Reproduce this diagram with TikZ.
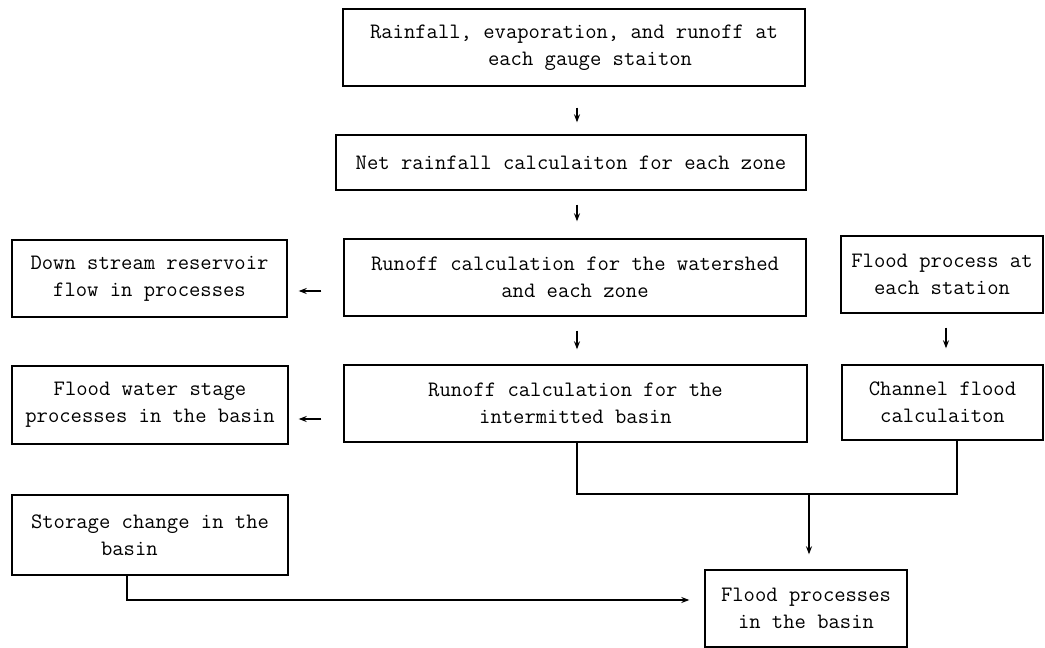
\documentclass[tikz,border=0pt]{standalone}
\usetikzlibrary{arrows.meta}
\begin{document}
\begin{tikzpicture}[x=1pt,y=-1pt,
  box/.style={draw,line width=1.4pt,rectangle,inner sep=0pt,align=center,
    font=\ttfamily\fontsize{22}{27}\selectfont},
  leftbox/.style={box,align=left},
  arr/.style={line width=1.2pt,-{Stealth[length=8pt,width=6pt]}},
  link/.style={line width=1.2pt}]
\useasboundingbox (0,0) rectangle (1045,648);

% central column
\node[leftbox,minimum width=462pt,minimum height=77pt] (gauge) at (574,47.5)
  {Rainfall, evaporation, and runoff at\\\hspace*{118pt}each gauge staiton};
\node[box,minimum width=470pt,minimum height=55pt] (net) at (571,162.5)
  {Net rainfall calculaiton for each zone};
\node[box,minimum width=462pt,minimum height=77pt] (water) at (575,277.5)
  {Runoff calculation for the watershed\\and each zone};
\node[box,minimum width=463pt,minimum height=77pt] (inter) at (575.5,403.5)
  {Runoff calculation for the\\intermitted basin};

% left column
\node[box,minimum width=275pt,minimum height=77pt] (reservoir) at (149.5,278.5)
  {Down stream reservoir\\flow in processes};
\node[box,minimum width=276pt,minimum height=78pt] (stage) at (150,405)
  {Flood water stage\\processes in the basin};
\node[leftbox,minimum width=276pt,minimum height=80pt] (store) at (150,535)
  {Storage change in the\\\hspace*{70pt}basin};

% right column
\node[box,minimum width=202pt,minimum height=77pt] (station) at (942,274.5)
  {Flood process at\\each station};
\node[box,minimum width=201pt,minimum height=75pt] (channel) at (942.5,402.5)
  {Channel flood\\calculaiton};

% result
\node[box,minimum width=202pt,minimum height=77pt] (flood) at (806,608.5)
  {Flood processes\\in the basin};

% guide coordinates for the connectors
\coordinate (cx) at (577,0);
\coordinate (rx) at (946,0);
\coordinate (ya) at (0,291);
\coordinate (yb) at (0,419);
\coordinate (jl) at (577,494);
\coordinate (jr) at (957,494);
\coordinate (jm) at (809,494);
\coordinate (sc) at (127,600);

% short vertical arrows
\draw[arr,shorten <=21pt,shorten >=12pt] (gauge.south -| cx) -- (net.north -| cx);
\draw[arr,shorten <=14pt,shorten >=17pt] (net.south -| cx) -- (water.north -| cx);
\draw[arr,shorten <=14pt,shorten >=15pt] (water.south -| cx) -- (inter.north -| cx);
\draw[arr,shorten <=14pt,shorten >=16pt] (station.south -| rx) -- (channel.north -| rx);

% short horizontal arrows to the left column
\draw[arr,shorten <=22pt,shorten >=11pt] (water.west |- ya) -- (reservoir.east |- ya);
\draw[arr,shorten <=22pt,shorten >=10pt] (inter.west |- yb) -- (stage.east |- yb);

% joining line and arrow to the result
\draw[link] (inter.south -| jl) -- (jl) -- (jr) -- (channel.south -| jr);
\draw[arr,shorten >=15pt] (jm) -- (flood.north -| jm);
\draw[arr,shorten >=15pt] (store.south -| sc) |- (flood.west |- sc);
\end{tikzpicture}
\end{document}
